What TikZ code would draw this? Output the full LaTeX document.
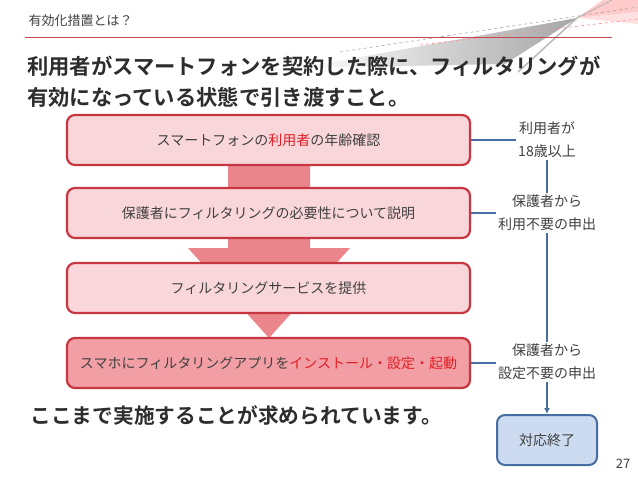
\documentclass[tikz,border=0pt]{standalone}
\usepackage{fontspec}
\setmainfont{Noto Sans CJK JP}[BoldFont={Noto Sans CJK JP Bold}]
\usepackage{xcolor}
\usetikzlibrary{arrows.meta,positioning}

\definecolor{boxred}{RGB}{200,55,65}
\definecolor{boxpink}{RGB}{249,214,218}
\definecolor{boxdeep}{RGB}{241,158,165}
\definecolor{arrowpink}{RGB}{234,133,140}
\definecolor{hired}{RGB}{228,30,38}
\definecolor{linkblue}{RGB}{70,110,160}
\definecolor{donefill}{RGB}{204,219,240}
\definecolor{txtgray}{RGB}{64,64,64}
\definecolor{titlegray}{RGB}{45,45,45}
\definecolor{hdrred}{RGB}{200,70,80}

\begin{document}
\begin{tikzpicture}[x=1pt, y=-1pt,
  every node/.style={font=\fontsize{14}{17}\selectfont, text=txtgray},
  stepbox/.style={draw=boxred, line width=2.2pt, rounded corners=8pt, fill=boxpink,
    minimum width=403pt, minimum height=50pt, inner sep=0pt},
  note/.style={align=center, inner sep=2pt, font=\fontsize{14}{23}\selectfont},
  link/.style={draw=linkblue, line width=1.5pt}]
\useasboundingbox (0,0) rectangle (638,479);
\fill[white] (0,0) rectangle (638,479);
% template decoration, top right
\shade[left color=white, right color=gray!70] (300,68) -- (577,18) -- (505,64) -- cycle;
\draw[gray!55, line width=1.5pt] (577,18) -- (518,72);
\fill[red!25, opacity=0.8] (577,18) -- (603,0) -- (638,0) -- (638,12) -- cycle;
\fill[red!12] (577,18) -- (638,12) -- (638,24) -- cycle;
\draw[gray!60, line width=0.8pt] (577,18) -- (612,0);
\draw[gray!70, dashed, line width=0.6pt] (340,52) -- (638,7);
\draw[red!45, dashed, line width=0.6pt] (420,45) -- (638,19);
% header
\node[anchor=west, font=\fontsize{13}{15}\selectfont] (hdr) at (25,21) {有効化措置とは？};
\draw[hdrred, line width=0.8pt] (25,37) -- (612,37);
\node[anchor=north west, align=left, inner sep=0pt, text=titlegray,
  font=\bfseries\fontsize{21.3}{30.5}\selectfont] (title) at (27,56)
  {利用者がスマートフォンを契約した際に、フィルタリングが\\有効になっている状態で引き渡すこと。};
% big arrow behind the steps
\fill[arrowpink] (228,140) -- (310,140) -- (310,248) -- (350,248) -- (269,338)
  -- (188,248) -- (228,248) -- cycle;
% steps
\node[stepbox] (age) at (268.5,140) {スマートフォンの\textcolor{hired}{利用者}の年齢確認};
\node[stepbox] (explain) at (268.5,213) {保護者にフィルタリングの必要性について説明};
\node[stepbox] (service) at (268.5,288) {フィルタリングサービスを提供};
\node[stepbox, fill=boxdeep] (install) at (268.5,363)
  {スマホにフィルタリングアプリを\textcolor{hired}{インストール・設定・起動}};
% exits on the right
\node[note] (adult) at (547,140) {利用者が\\18歳以上};
\node[note] (nouse) at (547,213) {保護者から\\利用不要の申出};
\node[note] (noset) at (547,362) {保護者から\\設定不要の申出};
\node[draw=linkblue, line width=2pt, fill=donefill, rounded corners=8pt,
  minimum width=100pt, minimum height=50pt] (done) at (547,440) {対応終了};
\draw[link] (age.east) -- (age.east -| adult.west);
\draw[link] (explain.east) -- (explain.east -| nouse.west);
\draw[link] (install.east) -- (install.east -| noset.west);
\draw[link] (adult) -- (nouse);
\draw[link] (nouse) -- (noset);
\draw[link, -{Latex[length=6pt,width=6pt]}] (noset) -- (done);
% footer
\node[anchor=west, text=titlegray, font=\bfseries\fontsize{20.7}{24}\selectfont] (summary)
  at (27,415) {ここまで実施することが求められています。};
\node[font=\fontsize{13}{15}\selectfont] (pageno) at (623,464) {27};
\end{tikzpicture}
\end{document}
